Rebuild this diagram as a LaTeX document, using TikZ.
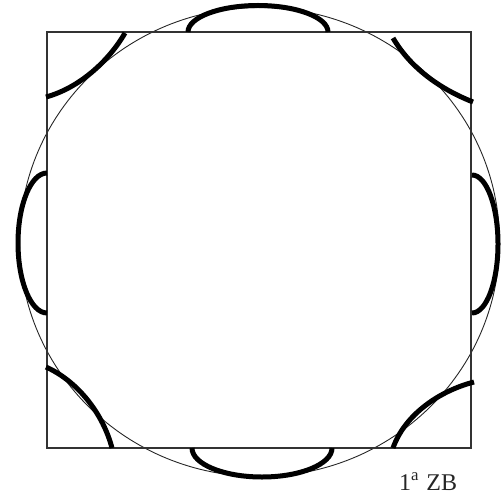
\documentclass[tikz,border=0pt]{standalone}
\usepackage{fontspec}
\setmainfont{Liberation Serif}
\begin{document}
\begin{tikzpicture}[x=1pt,y=-1pt,
  thinc/.style={line width=0.9pt,draw=black!85},
  zone/.style={line width=1.2pt,draw=black!80},
  fermi/.style={line width=5pt,draw=black,line cap=butt}]
\useasboundingbox (0,0) rectangle (502,497);
% free-electron circle
\draw[thinc] (259.5,242) ellipse [x radius=240, y radius=234.5];
% first Brillouin zone
\draw[zone] (47,32) rectangle (471,448);
% Fermi surface pieces: caps on the sides
\draw[fermi] (188,32) arc [start angle=180, end angle=360, x radius=70, y radius=26.5];
\draw[fermi] (192,448) arc [start angle=180, end angle=0, x radius=70, y radius=29];
\draw[fermi] (47,173) arc [start angle=270, end angle=90, x radius=29, y radius=70];
\draw[fermi] (472,175) arc [start angle=270, end angle=450, x radius=26, y radius=69];
% corner pieces
\draw[fermi] (46,97) .. controls (79,88) and (108.5,61.5) .. (125,33);
\draw[fermi] (393,38) .. controls (410.5,68) and (440,89) .. (473,102);
\draw[fermi] (46,367) .. controls (78.5,381.7) and (103,414) .. (112,448);
\draw[fermi] (393,448) .. controls (404.5,415) and (439,391) .. (474,382);
% label
\node[anchor=base west, inner sep=0pt, font=\fontsize{24}{24}\selectfont, text=black!85]
  (lbl) at (399,490) {1\textsuperscript{a}\hspace{0.3em}ZB};
\end{tikzpicture}
\end{document}
